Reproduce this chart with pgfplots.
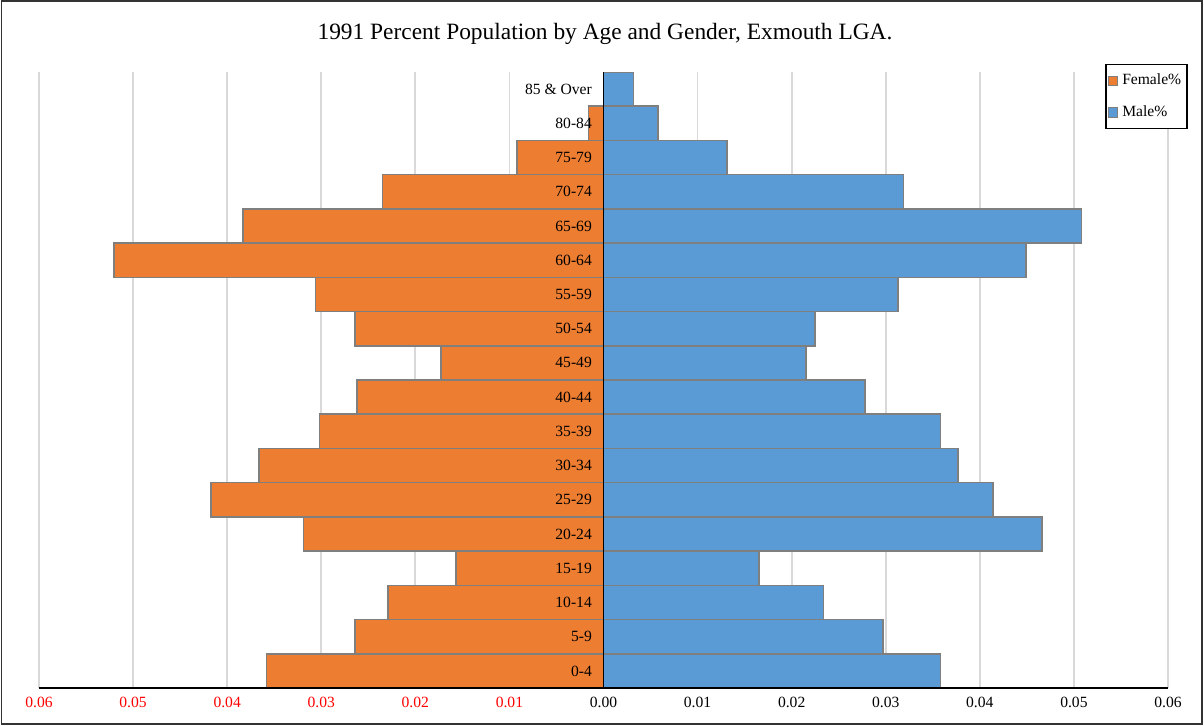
\documentclass[border=0pt]{standalone}
\usepackage{pgfplots}
\pgfplotsset{compat=1.18}
\usepackage{fontspec}
\setmainfont{Liberation Serif}
\definecolor{fem}{HTML}{ED7D31}
\definecolor{mal}{HTML}{5B9BD5}
\definecolor{edge}{HTML}{7F7F7F}
\definecolor{gridgray}{HTML}{D9D9D9}
\definecolor{tickred}{HTML}{FF0000}
\begin{document}
\begin{tikzpicture}[x=1pt,y=1pt]
\path[use as bounding box] (0,0) rectangle (602,362.5);
\draw[line width=0.9pt, black!80] (0.7,0.7) rectangle (601.0,361.8);
\node at (302.5,345.5) {\fontsize{11.7}{13}\selectfont 1991 Percent Population by Age and Gender, Exmouth LGA.};
\begin{axis}[
  at={(19.5pt,18.5pt)}, anchor=south west,
  scale only axis, width=564.5pt, height=308pt,
  xmin=-0.06, xmax=0.06, ymin=-0.5, ymax=17.5,
  xbar, bar width=1, bar shift=0pt,
  axis line style={draw=none},
  xmajorgrids, grid style={draw=gridgray, line width=0.9pt},
  major tick length=0pt,
  ytick=\empty,
  xtick={-0.06,-0.05,-0.04,-0.03,-0.02,-0.01,0,0.01,0.02,0.03,0.04,0.05,0.06},
  xticklabels={\textcolor{tickred}{0.06},\textcolor{tickred}{0.05},\textcolor{tickred}{0.04},\textcolor{tickred}{0.03},\textcolor{tickred}{0.02},\textcolor{tickred}{0.01},0.00,0.01,0.02,0.03,0.04,0.05,0.06},
  xticklabel style={font=\fontsize{7.8}{9}\selectfont, yshift=-1pt},
  legend style={at={(rel axis cs:0.9445,1.0130)}, anchor=north west, draw=black, line width=0.7pt,
    font=\fontsize{7.8}{9}\selectfont, inner xsep=1pt, inner ysep=2.5pt, row sep=5pt,
    cells={anchor=west}},
  legend image code/.code={\draw[#1, draw=edge, line width=0.5pt] (0pt,-2.3pt) rectangle (4.6pt,2.3pt);},
  legend cell align=left,
]
\addplot[fill=fem, draw=edge, line width=0.8pt] coordinates {
(-0.0358,0) (-0.0264,1) (-0.0229,2) (-0.0157,3) (-0.0319,4) (-0.0417,5)
(-0.0366,6) (-0.0302,7) (-0.0262,8) (-0.0173,9) (-0.0264,10) (-0.0306,11)
(-0.0520,12) (-0.0383,13) (-0.0235,14) (-0.0092,15) (-0.0016,16) (0,17)};
\addlegendentry{Female\%}
\addplot[fill=mal, draw=edge, line width=0.8pt] coordinates {
(0.0358,0) (0.0297,1) (0.0234,2) (0.0165,3) (0.0466,4) (0.0414,5)
(0.0377,6) (0.0358,7) (0.0278,8) (0.0215,9) (0.0225,10) (0.0313,11)
(0.0449,12) (0.0508,13) (0.0319,14) (0.0131,15) (0.0058,16) (0.0032,17)};
\addlegendentry{Male\%}
\draw[black, line width=0.9pt] (axis cs:-0.06,-0.5) -- (axis cs:0.06,-0.5);
\draw[black, line width=0.9pt] (axis cs:0,-0.5) -- (axis cs:0,17.5);
\begin{scope}[every node/.style={anchor=east, font=\fontsize{7.8}{9}\selectfont, inner sep=0pt}]
\node at (axis cs:-0.0012,0) {0-4};
\node at (axis cs:-0.0012,1) {5-9};
\node at (axis cs:-0.0012,2) {10-14};
\node at (axis cs:-0.0012,3) {15-19};
\node at (axis cs:-0.0012,4) {20-24};
\node at (axis cs:-0.0012,5) {25-29};
\node at (axis cs:-0.0012,6) {30-34};
\node at (axis cs:-0.0012,7) {35-39};
\node at (axis cs:-0.0012,8) {40-44};
\node at (axis cs:-0.0012,9) {45-49};
\node at (axis cs:-0.0012,10) {50-54};
\node at (axis cs:-0.0012,11) {55-59};
\node at (axis cs:-0.0012,12) {60-64};
\node at (axis cs:-0.0012,13) {65-69};
\node at (axis cs:-0.0012,14) {70-74};
\node at (axis cs:-0.0012,15) {75-79};
\node at (axis cs:-0.0012,16) {80-84};
\node at (axis cs:-0.0012,17) {85 \& Over};
\end{scope}
\end{axis}
\end{tikzpicture}
\end{document}
